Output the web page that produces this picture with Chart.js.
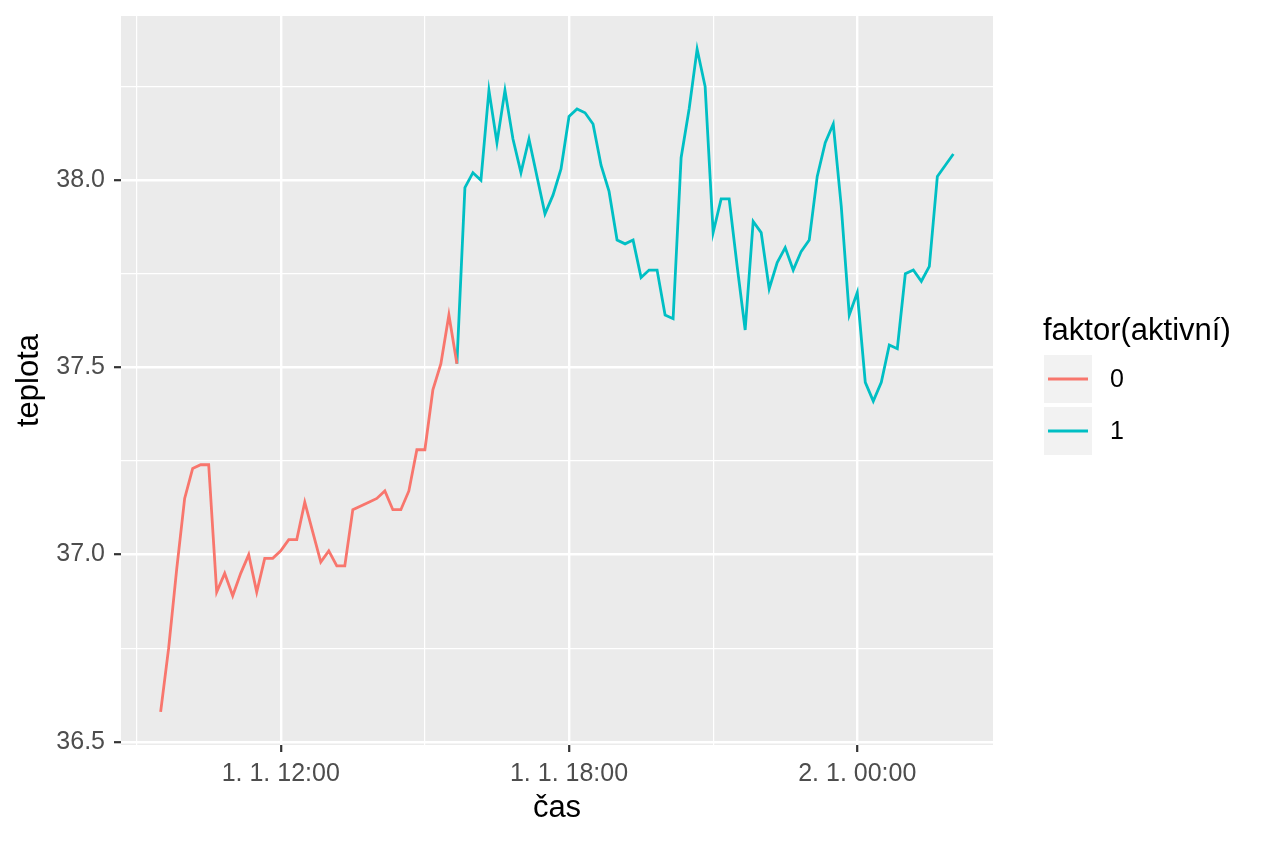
<!DOCTYPE html>
<html lang="cs">
<head>
<meta charset="utf-8">
<title>teplota</title>
<script src="https://cdn.jsdelivr.net/npm/chart.js@4.4.1/dist/chart.umd.min.js"></script>
<style>
    html, body { margin: 0; padding: 0; background: #fff; }
    #obal { position: relative; width: 1264px; height: 843px; }
</style>
</head>
<body>
<div id="obal"><canvas id="graf"></canvas></div>
<script>
// data (měření po 10 minutách)
const casy = [
    '1.1. 09:30', '1.1. 09:40', '1.1. 09:50',
    '1.1. 10:00', '1.1. 10:10', '1.1. 10:20', '1.1. 10:30', '1.1. 10:40', '1.1. 10:50',
    '1.1. 11:00', '1.1. 11:10', '1.1. 11:20', '1.1. 11:30', '1.1. 11:40', '1.1. 11:50',
    '1.1. 12:00', '1.1. 12:10', '1.1. 12:20', '1.1. 12:30', '1.1. 12:40', '1.1. 12:50',
    '1.1. 13:00', '1.1. 13:10', '1.1. 13:20', '1.1. 13:30', '1.1. 13:40', '1.1. 13:50',
    '1.1. 14:00', '1.1. 14:10', '1.1. 14:20', '1.1. 14:30', '1.1. 14:40', '1.1. 14:50',
    '1.1. 15:00', '1.1. 15:10', '1.1. 15:20', '1.1. 15:30', '1.1. 15:40', '1.1. 15:50',
    '1.1. 16:00', '1.1. 16:10', '1.1. 16:20', '1.1. 16:30', '1.1. 16:40', '1.1. 16:50',
    '1.1. 17:00', '1.1. 17:10', '1.1. 17:20', '1.1. 17:30', '1.1. 17:40', '1.1. 17:50',
    '1.1. 18:00', '1.1. 18:10', '1.1. 18:20', '1.1. 18:30', '1.1. 18:40', '1.1. 18:50',
    '1.1. 19:00', '1.1. 19:10', '1.1. 19:20', '1.1. 19:30', '1.1. 19:40', '1.1. 19:50',
    '1.1. 20:00', '1.1. 20:10', '1.1. 20:20', '1.1. 20:30', '1.1. 20:40', '1.1. 20:50',
    '1.1. 21:00', '1.1. 21:10', '1.1. 21:20', '1.1. 21:30', '1.1. 21:40', '1.1. 21:50',
    '1.1. 22:00', '1.1. 22:10', '1.1. 22:20', '1.1. 22:30', '1.1. 22:40', '1.1. 22:50',
    '1.1. 23:00', '1.1. 23:10', '1.1. 23:20', '1.1. 23:30', '1.1. 23:40', '1.1. 23:50',
    '2.1. 00:00', '2.1. 00:10', '2.1. 00:20', '2.1. 00:30', '2.1. 00:40', '2.1. 00:50',
    '2.1. 01:00', '2.1. 01:10', '2.1. 01:20', '2.1. 01:30', '2.1. 01:40', '2.1. 01:50',
    '2.1. 02:00'
];

const teplota = [
    36.58, 36.75, 36.96, 37.15, 37.23, 37.24, 37.24, 36.90, 36.95, 36.89,
    36.95, 37.00, 36.90, 36.99, 36.99, 37.01, 37.04, 37.04, 37.14, 37.06,
    36.98, 37.01, 36.97, 36.97, 37.12, 37.13, 37.14, 37.15, 37.17, 37.12,
    37.12, 37.17, 37.28, 37.28, 37.44, 37.51, 37.64, 37.51, 37.98, 38.02,
    38.00, 38.24, 38.10, 38.24, 38.11, 38.02, 38.11, 38.01, 37.91, 37.96,
    38.03, 38.17, 38.19, 38.18, 38.15, 38.04, 37.97, 37.84, 37.83, 37.84,
    37.74, 37.76, 37.76, 37.64, 37.63, 38.06, 38.19, 38.35, 38.25, 37.86,
    37.95, 37.95, 37.77, 37.60, 37.89, 37.86, 37.71, 37.78, 37.82, 37.76,
    37.81, 37.84, 38.01, 38.10, 38.15, 37.93, 37.64, 37.70, 37.46, 37.41,
    37.46, 37.56, 37.55, 37.75, 37.76, 37.73, 37.77, 38.01, 38.04, 38.07
];

const aktivni = [
    0, 0, 0, 0, 0, 0, 0, 0, 0, 0,
    0, 0, 0, 0, 0, 0, 0, 0, 0, 0,
    0, 0, 0, 0, 0, 0, 0, 0, 0, 0,
    0, 0, 0, 0, 0, 0, 0, 1, 1, 1,
    1, 1, 1, 1, 1, 1, 1, 1, 1, 1,
    1, 1, 1, 1, 1, 1, 1, 1, 1, 1,
    1, 1, 1, 1, 1, 1, 1, 1, 1, 1,
    1, 1, 1, 1, 1, 1, 1, 1, 1, 1,
    1, 1, 1, 1, 1, 1, 1, 1, 1, 1,
    1, 1, 1, 1, 1, 1, 1, 1, 1, 1
];

const urovne = ['0', '1'];
const barvy = ['#F8766D', '#00BFC4'];

// hlavní a vedlejší značky os (hodiny od 1. 1. 00:00)
const xZnacky = [9, 12, 15, 18, 21, 24];
const xHlavni = [12, 18, 24];
const xPopisky = ['1. 1. 12:00', '1. 1. 18:00', '2. 1. 00:00'];
const yZnacky = [36.5, 36.75, 37.0, 37.25, 37.5, 37.75, 38.0, 38.25];
const yHlavni = [36.5, 37.0, 37.5, 38.0];

const PISMO = "'Liberation Sans', Arial, Helvetica, sans-serif";
Chart.defaults.font.family = PISMO;

function naHodiny(s) {
    const [den, cas] = s.split(' ');
    const [h, m] = cas.split(':').map(Number);
    return (parseInt(den, 10) - 1) * 24 + h + m / 60;
}

const body = casy.map((c, i) => ({ x: naHodiny(c), y: teplota[i] }));

// úsek mezi dvěma body má barvu prvního z nich (jako geom_line s group = 1)
function bodyUrovne(u) {
    return body.map((b, i) => {
        const patri = aktivni[i] === u || (i > 0 && aktivni[i - 1] === u);
        return patri ? b : { x: b.x, y: null };
    });
}

// rozsah os s 5% rozšířením jako v ggplot2
const xs = body.map(b => b.x);
const xMin = Math.min(...xs), xMax = Math.max(...xs);
const yMin = Math.min(...teplota), yMax = Math.max(...teplota);
const xPad = (xMax - xMin) * 0.05, yPad = (yMax - yMin) * 0.05;

const panelPlugin = {
    id: 'panel',
    beforeDraw(chart) {
        const a = chart.chartArea;
        const ctx = chart.ctx;
        ctx.save();
        ctx.fillStyle = '#EBEBEB';
        ctx.fillRect(a.left, a.top, a.right - a.left, a.bottom - a.top);
        ctx.restore();
    },
    afterDraw(chart) {
        const a = chart.chartArea;
        const ctx = chart.ctx;
        ctx.save();
        ctx.fillStyle = '#000';

        // názvy os
        ctx.font = '31px ' + PISMO;
        ctx.textAlign = 'center';
        ctx.textBaseline = 'alphabetic';
        ctx.fillText('čas', (a.left + a.right) / 2, 817);
        ctx.save();
        ctx.translate(38, (a.top + a.bottom) / 2);
        ctx.rotate(-Math.PI / 2);
        ctx.fillText('teplota', 0, 0);
        ctx.restore();

        // legenda
        ctx.textAlign = 'left';
        ctx.fillText('faktor(aktivní)', 1043, 340);
        chart.data.datasets.forEach((ds, k) => {
            const top = 355 + k * 52;
            ctx.fillStyle = '#F2F2F2';
            ctx.fillRect(1044, top, 48, 48);
            ctx.strokeStyle = ds.borderColor;
            ctx.lineWidth = 2.8;
            ctx.beginPath();
            ctx.moveTo(1048, top + 24);
            ctx.lineTo(1088, top + 24);
            ctx.stroke();
            ctx.fillStyle = '#000';
            ctx.font = '25px ' + PISMO;
            ctx.textBaseline = 'middle';
            ctx.fillText(ds.label, 1110, top + 25);
            ctx.textBaseline = 'alphabetic';
        });
        ctx.restore();
    }
};

const ctx = document.getElementById('graf').getContext('2d');
new Chart(ctx, {
    type: 'line',
    data: {
        datasets: urovne.map((u, k) => ({
            label: u,
            data: bodyUrovne(k),
            borderColor: barvy[k],
            backgroundColor: barvy[k],
            borderWidth: 2.8,
            pointRadius: 0,
            pointHoverRadius: 0,
            tension: 0,
            spanGaps: false
        }))
    },
    options: {
        responsive: true,
        maintainAspectRatio: false,
        animation: false,
        parsing: false,
        layout: { padding: { top: 16, right: 271, left: 0, bottom: 0 } },
        plugins: {
            legend: { display: false },
            tooltip: { enabled: false }
        },
        scales: {
            x: {
                type: 'linear',
                min: xMin - xPad,
                max: xMax + xPad,
                afterBuildTicks: scale => {
                    scale.ticks = xZnacky.map(v => ({ value: v }));
                },
                afterFit: scale => {
                    scale.height = 98;
                    scale.paddingLeft = 0;
                    scale.paddingRight = 0;
                },
                border: { display: false },
                grid: {
                    color: '#FFFFFF',
                    lineWidth: c => xHlavni.includes(c.tick.value) ? 2.4 : 1.2,
                    tickLength: 7,
                    tickWidth: 2.2,
                    tickColor: c => xHlavni.includes(c.tick.value) ? '#333333' : 'rgba(0,0,0,0)'
                },
                ticks: {
                    autoSkip: false,
                    maxRotation: 0,
                    padding: 7,
                    color: '#4D4D4D',
                    font: { size: 25 },
                    callback: v => {
                        const k = xHlavni.indexOf(v);
                        return k >= 0 ? xPopisky[k] : '';
                    }
                }
            },
            y: {
                type: 'linear',
                min: yMin - yPad,
                max: yMax + yPad,
                afterBuildTicks: scale => {
                    scale.ticks = yZnacky.map(v => ({ value: v }));
                },
                afterFit: scale => {
                    scale.width = 121;
                    scale.paddingTop = 0;
                    scale.paddingBottom = 0;
                },
                border: { display: false },
                grid: {
                    color: '#FFFFFF',
                    lineWidth: c => yHlavni.includes(c.tick.value) ? 2.4 : 1.2,
                    tickLength: 7,
                    tickWidth: 2.2,
                    tickColor: c => yHlavni.includes(c.tick.value) ? '#333333' : 'rgba(0,0,0,0)'
                },
                ticks: {
                    autoSkip: false,
                    padding: 9,
                    color: '#4D4D4D',
                    font: { size: 25 },
                    callback: v => yHlavni.includes(v) ? v.toFixed(1) : ''
                }
            }
        }
    },
    plugins: [panelPlugin]
});
</script>
</body>
</html>
